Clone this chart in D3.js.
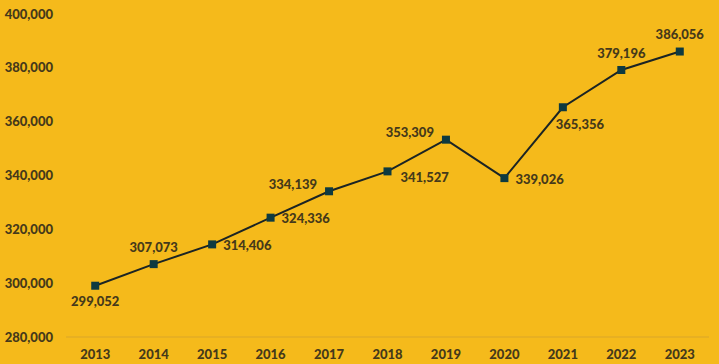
<!DOCTYPE html>
<html lang="en">
<head>
    <meta charset="UTF-8">
    <title>Line Chart 2013-2023</title>
    <script src="https://d3js.org/d3.v7.min.js"></script>
    <style>
        body { margin: 0; background: #F5BA1B; }
        text { font-family: Lato, "Open Sans", sans-serif; font-weight: 900; font-size: 13px; fill: #45391a; }
    </style>
</head>
<body>
    <script>
        var years = ["2013", "2014", "2015", "2016", "2017", "2018", "2019", "2020", "2021", "2022", "2023"];
        var values = [299052, 307073, 314406, 324336, 334139, 341527, 353309, 339026, 365356, 379196, 386056];
        var yTicks = [280000, 300000, 320000, 340000, 360000, 380000, 400000];
        // where each data label sits relative to its point
        var labelPos = ["below", "above", "right", "right", "left", "rightLow", "left", "right", "belowRight", "above", "above"];

        var w = 719;
        var h = 364;

        var svg = d3.select("body")
                    .append("svg")
                    .attr("width", w)
                    .attr("height", h)
                    .style("background", "#F5BA1B")
                    .style("display", "block");

        var x = d3.scaleBand()
                  .domain(years)
                  .range([66, 709]);

        var y = d3.scaleLinear()
                  .domain([280000, 400000])
                  .range([337, 14]);

        var fmt = d3.format(",");

        // baseline
        svg.append("line")
           .attr("x1", 66).attr("x2", 709)
           .attr("y1", y(280000)).attr("y2", y(280000))
           .attr("stroke", "#d9a62a")
           .attr("stroke-width", 1);

        // y labels
        svg.selectAll(".ylab")
           .data(yTicks)
           .join("text")
           .attr("class", "ylab")
           .attr("x", 53)
           .attr("y", (d) => y(d))
           .attr("dy", "0.35em")
           .attr("text-anchor", "end")
           .text((d) => fmt(d));

        // x labels
        svg.selectAll(".xlab")
           .data(years)
           .join("text")
           .attr("class", "xlab")
           .attr("x", (d) => x(d) + x.bandwidth() / 2)
           .attr("y", 354)
           .attr("dy", "0.35em")
           .attr("text-anchor", "middle")
           .text((d) => d);

        var cx = (d, i) => x(years[i]) + x.bandwidth() / 2;

        var line = d3.line()
                     .x((d, i) => cx(d, i))
                     .y((d) => y(d));

        svg.append("path")
           .datum(values)
           .attr("d", line)
           .attr("fill", "none")
           .attr("stroke", "#1b2424")
           .attr("stroke-width", 2);

        svg.selectAll(".pt")
           .data(values)
           .join("rect")
           .attr("class", "pt")
           .attr("x", (d, i) => cx(d, i) - 4)
           .attr("y", (d) => y(d) - 4)
           .attr("width", 8)
           .attr("height", 8)
           .attr("fill", "#0e3a40");

        var offsets = {
            below:      { dx: 0,   dy: 16, anchor: "middle" },
            belowRight: { dx: 17,  dy: 17, anchor: "middle" },
            above:      { dx: 0,   dy: -17, anchor: "middle" },
            right:      { dx: 11,  dy: 1,  anchor: "start" },
            rightLow:   { dx: 13,  dy: 6,  anchor: "start" },
            left:       { dx: -12, dy: -7, anchor: "end" }
        };

        svg.selectAll(".dlab")
           .data(values)
           .join("text")
           .attr("class", "dlab")
           .attr("x", (d, i) => cx(d, i) + offsets[labelPos[i]].dx)
           .attr("y", (d, i) => y(d) + offsets[labelPos[i]].dy)
           .attr("dy", "0.35em")
           .attr("text-anchor", (d, i) => offsets[labelPos[i]].anchor)
           .text((d) => fmt(d));
    </script>
</body>
</html>
